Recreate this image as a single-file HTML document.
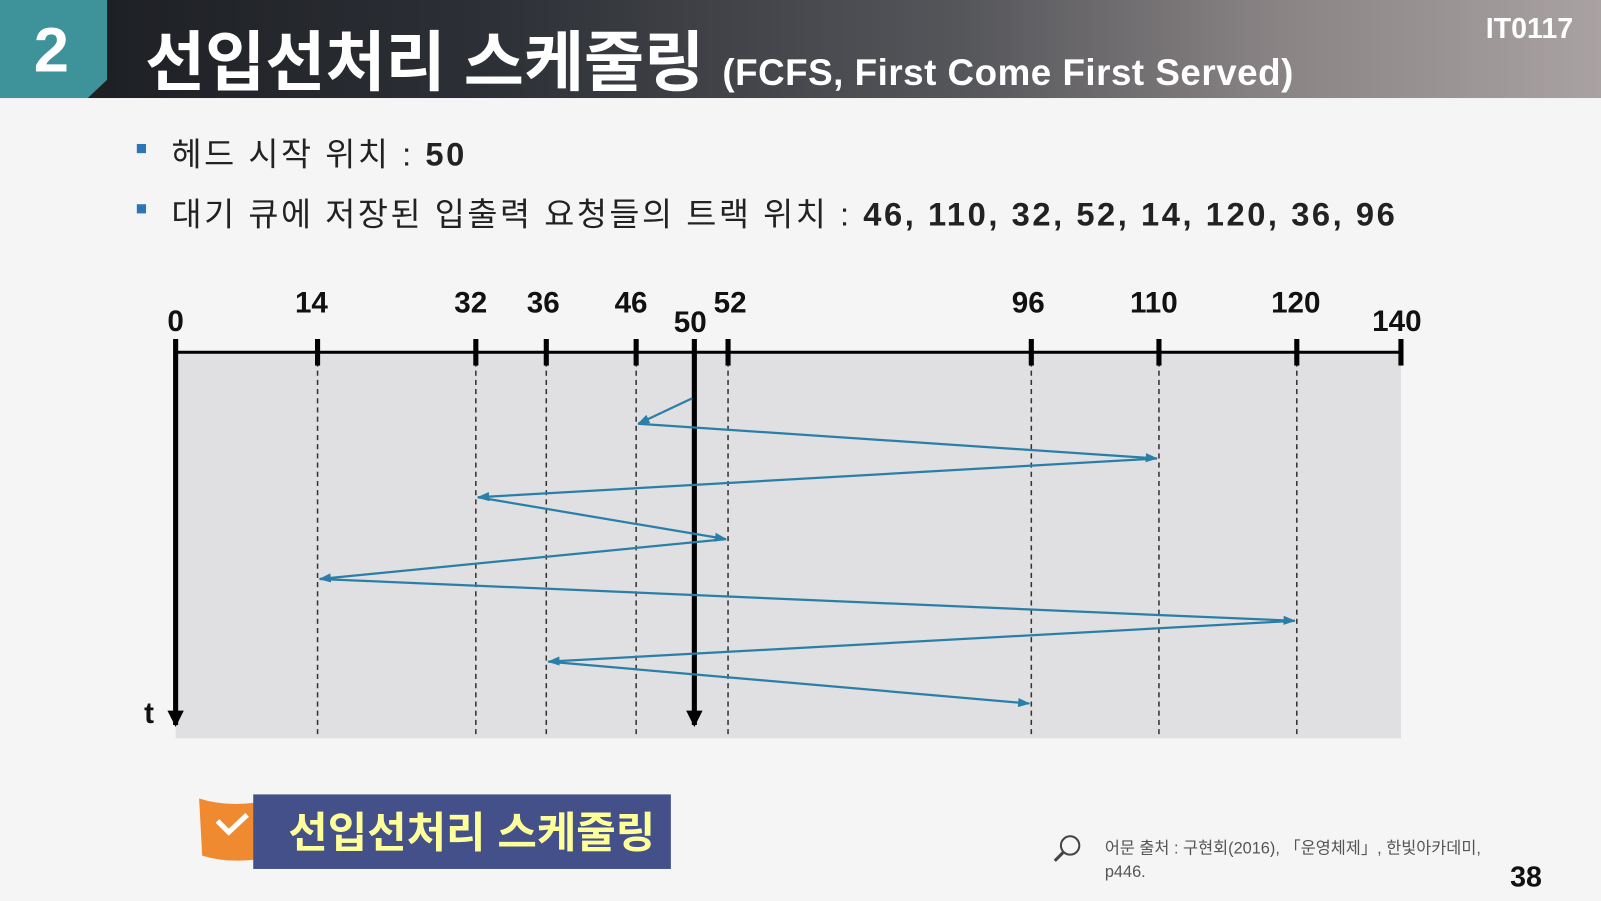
<!DOCTYPE html>
<html><head><meta charset="utf-8"><style>
html,body{margin:0;width:1601px;height:901px;background:#f5f5f5;overflow:hidden}
#w{position:absolute;left:0;top:0;width:1568px;height:882px;transform:scale(1.0211);transform-origin:0 0;font-family:"Liberation Sans","Noto Sans CJK KR",sans-serif}
.hdr{position:absolute;left:0;top:0;width:1568px;height:96px;background:linear-gradient(90deg,#1a1c20 0%,#2c2f35 30%,#55565a 60%,#8a8485 80%,#a9a2a3 100%)}
.num{position:absolute;left:0;top:0;width:105px;height:96px;background:#3d9399;clip-path:polygon(0 0,105px 0,105px 78px,86px 96px,0 96px)}
.t{position:absolute;color:#fff;font-weight:bold}
.b{position:absolute;color:#222;font-size:32px;letter-spacing:2.5px;white-space:nowrap}
.sq{position:absolute;width:9px;height:9px;background:#2e75b6}
</style></head><body><div id="w">
<div class="hdr"></div><div class="num"></div>
<div class="t" style="left:33px;top:14px;font-size:62px">2</div>
<div class="t" style="left:142px;top:10px;font-size:64px;white-space:nowrap">선입선처리 스케줄링 <span style="font-size:36px;letter-spacing:0.5px">(FCFS, First Come First Served)</span></div>
<div class="t" style="left:1455px;top:12px;font-size:28px">IT0117</div>
<div class="sq" style="left:134px;top:141px"></div>
<div class="b" style="left:168px;top:126px">헤드 시작 위치 : <b>50</b></div>
<div class="sq" style="left:134px;top:200px"></div>
<div class="b" style="left:168px;top:185px">대기 큐에 저장된 입출력 요청들의 트랙 위치 : <b>46, 110, 32, 52, 14, 120, 36, 96</b></div>
<svg style="position:absolute;left:0;top:0" width="1568" height="882">
<defs><marker id="a" markerWidth="12" markerHeight="9" refX="11" refY="4.5" orient="auto" markerUnits="userSpaceOnUse"><path d="M0,0L12,4.5L0,9z" fill="#2a7fa8"/></marker>
<marker id="k" markerWidth="16" markerHeight="16" refX="8" refY="14" orient="0" markerUnits="userSpaceOnUse"><path d="M0,0L16,0L8,16z" fill="#000"/></marker></defs>
<rect x="172" y="345" width="1200" height="378" fill="#e0e0e2"/>
<g stroke="#333" stroke-width="1.5" stroke-dasharray="5,4">
<line x1="311" y1="345" x2="311" y2="723"/><line x1="466" y1="345" x2="466" y2="723"/><line x1="535" y1="345" x2="535" y2="723"/><line x1="623" y1="345" x2="623" y2="723"/><line x1="713" y1="345" x2="713" y2="723"/><line x1="1010" y1="345" x2="1010" y2="723"/><line x1="1135" y1="345" x2="1135" y2="723"/><line x1="1270" y1="345" x2="1270" y2="723"/></g>
<line x1="172" y1="345" x2="1372" y2="345" stroke="#000" stroke-width="3"/>
<g stroke="#000" stroke-width="5">
<line x1="311" y1="332" x2="311" y2="358"/><line x1="466" y1="332" x2="466" y2="358"/><line x1="535" y1="332" x2="535" y2="358"/><line x1="623" y1="332" x2="623" y2="358"/><line x1="713" y1="332" x2="713" y2="358"/><line x1="1010" y1="332" x2="1010" y2="358"/><line x1="1135" y1="332" x2="1135" y2="358"/><line x1="1270" y1="332" x2="1270" y2="358"/><line x1="1372" y1="332" x2="1372" y2="358"/></g>
<line x1="172" y1="332" x2="172" y2="710" stroke="#000" stroke-width="5" marker-end="url(#k)"/>
<line x1="680" y1="332" x2="680" y2="710" stroke="#000" stroke-width="5" marker-end="url(#k)"/>
<g stroke="#2a7fa8" stroke-width="2.2" fill="none" marker-end="url(#a)">
<line x1="678" y1="390" x2="625" y2="415"/><line x1="625" y1="415" x2="1133" y2="449"/><line x1="1133" y1="449" x2="468" y2="487"/><line x1="468" y1="487" x2="711" y2="528"/><line x1="711" y1="528" x2="313" y2="567"/><line x1="313" y1="567" x2="1268" y2="608"/><line x1="1268" y1="608" x2="537" y2="648"/><line x1="537" y1="648" x2="1008" y2="689"/></g>
<g font-family="Liberation Sans" font-weight="bold" font-size="29" text-anchor="middle" fill="#111">
<text x="172" y="324">0</text><text x="305" y="306">14</text><text x="461" y="306">32</text><text x="532" y="306">36</text><text x="618" y="306">46</text><text x="676" y="325">50</text><text x="715" y="306">52</text><text x="1007" y="306">96</text><text x="1130" y="306">110</text><text x="1269" y="306">120</text><text x="1368" y="324">140</text><text x="146" y="708">t</text></g>
<path d="M195,782 Q220,790 250,786 L250,842 Q220,845 198,838 Z" fill="#f08a30"/>
<path d="M213,804 L224,815 L242,798" stroke="#fff" stroke-width="5" fill="none"/>
<rect x="248" y="778" width="409" height="73" fill="#43508a"/>
<text x="462" y="830" text-anchor="middle" font-family="Liberation Sans,Noto Sans CJK KR,sans-serif" font-weight="bold" font-size="42" fill="#ffff99">선입선처리 스케줄링</text>
<circle cx="1048" cy="828" r="9" fill="none" stroke="#444" stroke-width="2"/><line x1="1041" y1="835" x2="1033" y2="843" stroke="#444" stroke-width="3"/>
<text x="1082" y="836" font-family="Liberation Sans,Noto Sans CJK KR,sans-serif" font-size="16" fill="#555">어문 출처 : 구현회(2016), 「운영체제」, 한빛아카데미,</text>
<text x="1082" y="859" font-family="Liberation Sans" font-size="16" fill="#555">p446.</text>
<text x="1510" y="868" text-anchor="end" font-family="Liberation Sans" font-weight="bold" font-size="28" fill="#111">38</text>
</svg>
</div></body></html>
